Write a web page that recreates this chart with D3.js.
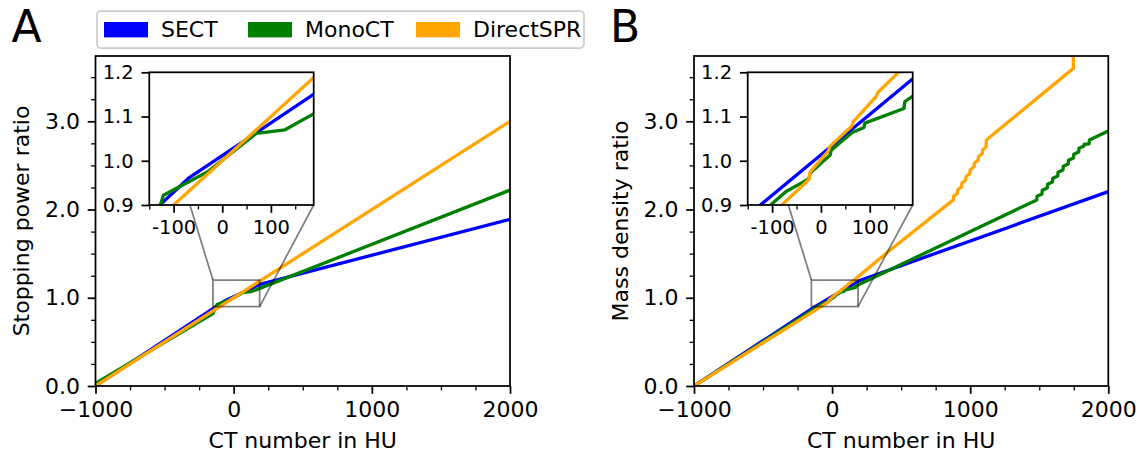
<!DOCTYPE html>
<html>
<head>
<meta charset="utf-8">
<script src="https://cdn.jsdelivr.net/npm/d3@7"></script>
<style>
  html, body { margin: 0; padding: 0; background: #fff; }
  svg { display: block; font-family: "DejaVu Sans", sans-serif; }
</style>
</head>
<body>
<svg id="fig" width="1144" height="458"></svg>
<script>
// ---- series metadata ----
const seriesNames = ["SECT", "MonoCT", "DirectSPR"];
const seriesColors = ["#0000ff", "#008000", "#ffa500"];

// ---- axis ticks ----
const mainXTicks = [-1000, 0, 1000, 2000];
const mainXMinor = [-750, -500, -250, 250, 500, 750, 1250, 1500, 1750];
const mainYTicks = [0, 1, 2, 3];
const mainYMinor = [0.25, 0.5, 0.75, 1.25, 1.5, 1.75, 2.25, 2.5, 2.75, 3.25, 3.5];
const insetXTicks = [-100, 0, 100];
const insetXMinor = [-150, -50, 50, 150];
const insetYTicks = [0.9, 1.0, 1.1, 1.2];

// ---- panel A: stopping power ratio vs CT number (HU) ----
const sprSectHU = [-1000, -70, 190, 2000];
const sprSect   = [0.0, 0.96, 1.152, 1.89];
const sprMonoHU = [-1000, -150, -121, -30, 70, 129, 2000];
const sprMono   = [0.03, 0.82, 0.922, 0.975, 1.062, 1.07, 2.22];
const sprDirectHU = [-1000, 2000];
const sprDirect   = [0.0, 3.0];

// ---- panel B: mass density ratio vs CT number (HU) ----
const rhoSectHU = [-1000, -124, 200, 2000];
const rhoSect   = [0.0, 0.9, 1.196, 2.203];
const rhoMonoHU = [-1000, -103, -72, -25, -22, 19, 21, 64, 88, 90, 170, 172,
  1482, 1484, 1520, 1522, 1558, 1560, 1596, 1598, 1634, 1636, 1672, 1674,
  1710, 1712, 1748, 1750, 1786, 1788, 1824, 1826, 1861, 1863, 2000];
const rhoMono   = [0.0, 0.9, 0.93, 0.959, 0.972, 1.013, 1.024, 1.064, 1.075, 1.085, 1.118, 1.134,
  2.109, 2.15, 2.177, 2.218, 2.245, 2.286, 2.313, 2.354, 2.381, 2.422, 2.449, 2.49,
  2.517, 2.558, 2.585, 2.626, 2.653, 2.694, 2.721, 2.74, 2.745, 2.789, 2.89];
const rhoDirectHU = [-1000, -80, -25, -22, 15, 18, 63, 66, 113, 117, 159, 421,
  878, 880, 908, 910, 938, 940, 968, 970, 998, 1000, 1028, 1030, 1058, 1060,
  1088, 1090, 1115, 1117, 1747, 1747];
const rhoDirect   = [0.0, 0.9, 0.957, 0.975, 1.022, 1.032, 1.078, 1.088, 1.145, 1.155, 1.2, 1.542,
  2.109, 2.15, 2.185, 2.225, 2.26, 2.30, 2.335, 2.375, 2.41, 2.45, 2.485, 2.525, 2.56, 2.60,
  2.635, 2.675, 2.71, 2.789, 3.60, 5.0];

const zoomX = [-150, 188];
const zoomY = [0.9, 1.2];

const panels = [
  {
    letter: "A", ylabel: "Stopping power ratio",
    box: { l: 95.5, r: 510, t: 56, b: 386 },
    inset: { l: 149.3, r: 313.7, t: 72.3, b: 205 },
    series: [[sprSectHU, sprSect], [sprMonoHU, sprMono], [sprDirectHU, sprDirect]]
  },
  {
    letter: "B", ylabel: "Mass density ratio",
    box: { l: 694, r: 1108.3, t: 56, b: 386 },
    inset: { l: 747.7, r: 912.7, t: 72.3, b: 205 },
    series: [[rhoSectHU, rhoSect], [rhoMonoHU, rhoMono], [rhoDirectHU, rhoDirect]]
  }
];

const svg = d3.select("#fig");
const FS = 22;          // main font size
const FS_IN = 19.5;     // inset font size
const MAJ = 7.8, MIN = 4.4, PAD = 7.8;
const LW = 3.3;

function styleAxis(sel, fs) {
  sel.select(".domain").remove();
  sel.selectAll(".tick line").attr("stroke", "#000").attr("stroke-width", 1.75);
  sel.selectAll(".tick text").attr("fill", "#000").style("font-size", fs + "px")
    .style("font-family", '"DejaVu Sans", sans-serif');
}

function drawSeries(g, x, y, series, clipId) {
  const line = d3.line().x(d => x(d[0])).y(d => y(d[1]));
  const lg = g.append("g").attr("clip-path", `url(#${clipId})`);
  series.forEach((s, i) => {
    const pts = s[0].map((h, k) => [h, s[1][k]]);
    lg.append("path").datum(pts)
      .attr("d", line).attr("fill", "none")
      .attr("stroke", seriesColors[i]).attr("stroke-width", LW)
      .attr("stroke-linejoin", "round").attr("stroke-linecap", "butt");
  });
}

function addClip(id, b) {
  svg.append("defs").append("clipPath").attr("id", id)
    .append("rect").attr("x", b.l).attr("y", b.t).attr("width", b.r - b.l).attr("height", b.b - b.t);
}

panels.forEach((p, pi) => {
  const b = p.box, ib = p.inset;
  const g = svg.append("g");
  const x = d3.scaleLinear().domain([-1000, 2000]).range([b.l, b.r]);
  const y = d3.scaleLinear().domain([0, 3.74]).range([b.b, b.t]);
  addClip("clipMain" + pi, b);
  drawSeries(g, x, y, p.series, "clipMain" + pi);

  // zoom region outline and connector lines
  const zc = "rgba(0,0,0,0.5)";
  g.append("rect")
    .attr("x", x(zoomX[0])).attr("y", y(zoomY[1]))
    .attr("width", x(zoomX[1]) - x(zoomX[0])).attr("height", y(zoomY[0]) - y(zoomY[1]))
    .attr("fill", "none").attr("stroke", zc).attr("stroke-width", 1.75);
  g.append("line").attr("x1", x(zoomX[0])).attr("y1", y(zoomY[1]))
    .attr("x2", ib.l).attr("y2", ib.t).attr("stroke", zc).attr("stroke-width", 1.75);
  g.append("line").attr("x1", x(zoomX[1])).attr("y1", y(zoomY[0]))
    .attr("x2", ib.r).attr("y2", ib.b).attr("stroke", zc).attr("stroke-width", 1.75);

  // main axes frame
  g.append("rect").attr("x", b.l).attr("y", b.t).attr("width", b.r - b.l).attr("height", b.b - b.t)
    .attr("fill", "none").attr("stroke", "#000").attr("stroke-width", 1.75);

  const ax = g.append("g").attr("transform", `translate(0,${b.b})`)
    .call(d3.axisBottom(x).tickValues(mainXTicks).tickSize(MAJ).tickPadding(PAD).tickFormat(d3.format("d")));
  styleAxis(ax, FS);
  const axm = g.append("g").attr("transform", `translate(0,${b.b})`)
    .call(d3.axisBottom(x).tickValues(mainXMinor).tickSize(MIN).tickFormat(""));
  styleAxis(axm, FS);
  axm.selectAll(".tick line").attr("stroke-width", 1.3);

  const ay = g.append("g").attr("transform", `translate(${b.l},0)`)
    .call(d3.axisLeft(y).tickValues(mainYTicks).tickSize(MAJ).tickPadding(PAD).tickFormat(d3.format(".1f")));
  styleAxis(ay, FS);
  const aym = g.append("g").attr("transform", `translate(${b.l},0)`)
    .call(d3.axisLeft(y).tickValues(mainYMinor).tickSize(MIN).tickFormat(""));
  styleAxis(aym, FS);
  aym.selectAll(".tick line").attr("stroke-width", 1.3);

  // axis labels
  g.append("text").attr("x", (b.l + b.r) / 2).attr("y", 448)
    .attr("text-anchor", "middle").style("font-size", FS + "px").text("CT number in HU");
  g.append("text").attr("transform", `translate(${b.l - 66.5},${(b.t + b.b) / 2}) rotate(-90)`)
    .attr("text-anchor", "middle").style("font-size", FS + "px").text(p.ylabel);

  // panel letter
  g.append("text").attr("x", b.l - 84).attr("y", 42).style("font-size", "44px").text(p.letter);

  // ---- inset ----
  const xi = d3.scaleLinear().domain(zoomX).range([ib.l, ib.r]);
  const yi = d3.scaleLinear().domain(zoomY).range([ib.b, ib.t]);
  g.append("rect").attr("x", ib.l).attr("y", ib.t).attr("width", ib.r - ib.l).attr("height", ib.b - ib.t)
    .attr("fill", "#fff");
  addClip("clipInset" + pi, ib);
  drawSeries(g, xi, yi, p.series, "clipInset" + pi);
  g.append("rect").attr("x", ib.l).attr("y", ib.t).attr("width", ib.r - ib.l).attr("height", ib.b - ib.t)
    .attr("fill", "none").attr("stroke", "#000").attr("stroke-width", 1.75);

  const ix = g.append("g").attr("transform", `translate(0,${ib.b})`)
    .call(d3.axisBottom(xi).tickValues(insetXTicks).tickSize(MAJ).tickPadding(PAD)
      .tickFormat(d => (d < 0 ? "-" : "") + Math.abs(d)));
  styleAxis(ix, FS_IN);
  const ixm = g.append("g").attr("transform", `translate(0,${ib.b})`)
    .call(d3.axisBottom(xi).tickValues(insetXMinor).tickSize(MIN).tickFormat(""));
  styleAxis(ixm, FS_IN);
  ixm.selectAll(".tick line").attr("stroke-width", 1.3);
  const iy = g.append("g").attr("transform", `translate(${ib.l},0)`)
    .call(d3.axisLeft(yi).tickValues(insetYTicks).tickSize(MAJ).tickPadding(PAD).tickFormat(d3.format(".1f")));
  styleAxis(iy, FS_IN);
});

// ---- legend ----
const leg = svg.append("g");
leg.append("rect").attr("x", 97).attr("y", 11).attr("width", 487).attr("height", 37)
  .attr("rx", 4).attr("fill", "#fff").attr("fill-opacity", 0.8)
  .attr("stroke", "#cccccc").attr("stroke-width", 1.75);
const legX = [104, 248, 416];
seriesNames.forEach((n, i) => {
  leg.append("rect").attr("x", legX[i]).attr("y", 22).attr("width", 44).attr("height", 15.4)
    .attr("fill", seriesColors[i]);
  leg.append("text").attr("x", legX[i] + 57).attr("y", 37).style("font-size", FS + "px").text(n);
});
</script>
</body>
</html>
